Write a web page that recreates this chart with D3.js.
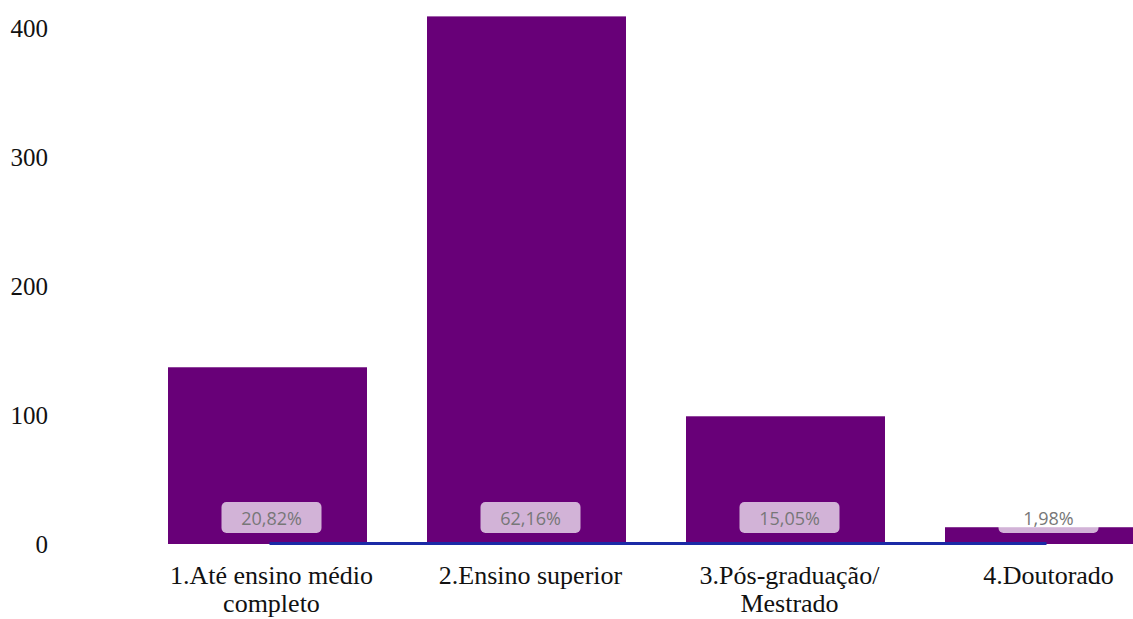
<!DOCTYPE html>
<html>
<head>
<meta charset="utf-8">
<script src="https://d3js.org/d3.v7.min.js"></script>
<style>
  body { margin: 0; background: #fff; }
</style>
</head>
<body>
<script>
const categories = ["1.Até ensino médio completo", "2.Ensino superior", "3.Pós-graduação/ Mestrado", "4.Doutorado"];
const catLines = [["1.Até ensino médio", "completo"], ["2.Ensino superior"], ["3.Pós-graduação/", "Mestrado"], ["4.Doutorado"]];
const counts = [137, 409, 99, 13];
const percentLabels = ["20,82%", "62,16%", "15,05%", "1,98%"];
const lineValues = [0, 0, 0, 0];
const yTicks = [0, 100, 200, 300, 400];

const W = 1133, H = 619;

function setattrs(shape, dict) {
    for (let [prop, val] of Object.entries(dict)) {
        shape.attr(prop, val)
    }
}

const svg = d3.select("body").append("svg")
setattrs(svg, {"width": W, "height": H})

const x = d3.scaleBand().domain(categories).range([108, 1204]).padding(0.2317)
const y = d3.scaleLinear().domain([0, 400]).range([544, 28])

// y tick labels, no axis line
const yAxis = svg.append("g")
    .attr("transform", "translate(48,0)")
    .call(d3.axisLeft(y).tickValues(yTicks).tickSize(0).tickPadding(0))
yAxis.select(".domain").remove()
yAxis.selectAll("text")
    .attr("font-family", "'Liberation Serif', 'Times New Roman', serif")
    .attr("font-size", 25)
    .attr("fill", "#111")

// bars
svg.append("g").selectAll("rect")
    .data(counts)
    .join("rect")
    .attr("x", (d, i) => x(categories[i]))
    .attr("y", d => y(d))
    .attr("width", x.bandwidth())
    .attr("height", d => y(0) - y(d))
    .attr("fill", "#680078")

// blue line along the series
const line = d3.line()
    .x((d, i) => x(categories[i]) + x.bandwidth() / 2 + 2)
    .y(d => y(d) - 0.5)
svg.append("path")
    .datum(lineValues)
    .attr("d", line)
    .attr("fill", "none")
    .attr("stroke", "#1b2aa6")
    .attr("stroke-width", 3)

// percentage labels
const lab = svg.append("g").selectAll("g")
    .data(percentLabels)
    .join("g")
    .attr("transform", (d, i) => `translate(${x(categories[i]) + x.bandwidth() / 2 + 4},${y(0) - 26.5})`)
lab.append("rect")
    .attr("x", -50).attr("y", -15.5)
    .attr("width", 100).attr("height", 31)
    .attr("rx", 5)
    .attr("fill", "rgba(255,255,255,0.7)")
lab.append("text")
    .text(d => d)
    .attr("text-anchor", "middle")
    .attr("dominant-baseline", "central")
    .attr("font-family", "'Open Sans', sans-serif")
    .attr("font-size", 18)
    .attr("fill", "#777")

// category labels
const cat = svg.append("g").selectAll("text")
    .data(catLines)
    .join("text")
    .attr("x", (d, i) => x(categories[i]) + x.bandwidth() / 2 + 4)
    .attr("y", 575)
    .attr("text-anchor", "middle")
    .attr("font-family", "'Liberation Serif', 'Times New Roman', serif")
    .attr("font-size", 26)
    .attr("fill", "#111")
cat.selectAll("tspan")
    .data(d => d)
    .join("tspan")
    .attr("x", function () { return d3.select(this.parentNode).attr("x") })
    .attr("dy", (d, i) => i === 0 ? "0.35em" : 28)
    .text(d => d)
</script>
</body>
</html>
